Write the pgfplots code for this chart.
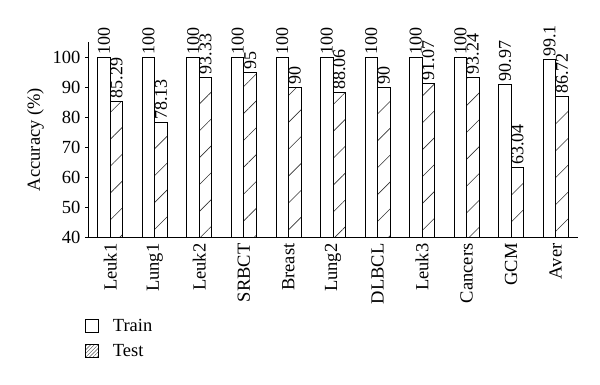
\documentclass[border=0pt]{standalone}
\usepackage{pgfplots}
\pgfplotsset{compat=1.18}
\usepackage{fontspec}
\setmainfont{Liberation Serif}
\usetikzlibrary{patterns.meta}
\begin{document}
\begin{tikzpicture}
\begin{axis}[
  name=ax,
  scale only axis,
  width=490pt, height=195pt,
  xmin=-0.5, xmax=10.5, ymin=40, ymax=105,
  ytick={40,50,...,100},
  xtick={0,...,10},
  xticklabels={Leuk1,Lung1,Leuk2,SRBCT,Breast,Lung2,DLBCL,Leuk3,Cancers,GCM,Aver},
  minor xtick={0.5,1.5,...,10.5},
  xtick style={draw=none},
  minor tick length=5pt,
  major tick length=3pt,
  tick align=outside,
  tick style={black, line width=0.8pt},
  minor x tick style={black, line width=0.8pt},
  axis x line*=bottom, axis y line*=left,
  x axis line style={-, line width=0.9pt},
  y axis line style={-, line width=0.9pt},
  /pgf/number format/assume math mode=true,
  ticklabel style={font=\fontsize{18.5}{20}\selectfont},
  xticklabel style={rotate=90, anchor=east, font=\fontsize{18.5}{20}\selectfont},
  yticklabel style={xshift=-1pt},
  ylabel={Accuracy (\%)},
  ylabel style={font=\fontsize{18.5}{20}\selectfont, yshift=2pt},
  ybar=0pt, bar width=12.5pt,
  nodes near coords,
  point meta=explicit symbolic,
  every node near coord/.append style={rotate=90, anchor=west, inner sep=2.5pt, font=\fontsize{18}{20}\selectfont},
  legend style={at={(rel axis cs:0,0)}, anchor=north west, xshift=-6pt, yshift=-78pt, draw=none, fill=none,
    font=\fontsize{18.5}{20}\selectfont, row sep=7pt, cells={anchor=west}},
  legend cell align=left,
]
\addplot[fill=white, draw=black, line width=0.9pt,
  legend image code/.code={\draw[fill=white, line width=0.7pt] (0pt,-6.5pt) rectangle (13pt,6.5pt);}]
  table[meta=l] {
x y l
0 100 100
1 100 100
2 100 100
3 100 100
4 100 100
5 100 100
6 100 100
7 100 100
8 100 100
9 90.97 90.97
10 99.1 99.1
};
\addlegendentry{\hspace{12pt}Train}
\addplot[draw=black, line width=0.9pt, pattern={Lines[angle=45, distance=19pt, line width=0.6pt]}, pattern color=black!80,
  legend image code/.code={\draw[line width=0.7pt, pattern={Lines[angle=45, distance=2.6pt, line width=0.4pt]}, pattern color=black!70] (0pt,-6.5pt) rectangle (13pt,6.5pt);}]
  table[meta=l] {
x y l
0 85.29 85.29
1 78.13 78.13
2 93.33 93.33
3 95 95
4 90 90
5 88.06 88.06
6 90 90
7 91.07 91.07
8 93.24 93.24
9 63.04 63.04
10 86.72 86.72
};
\addlegendentry{\hspace{12pt}Test}
\end{axis}
\pgfresetboundingbox
\path[use as bounding box] ([shift={(-88pt,-147pt)}]ax.south west) rectangle ++(600pt,384pt);
\end{tikzpicture}
\end{document}
